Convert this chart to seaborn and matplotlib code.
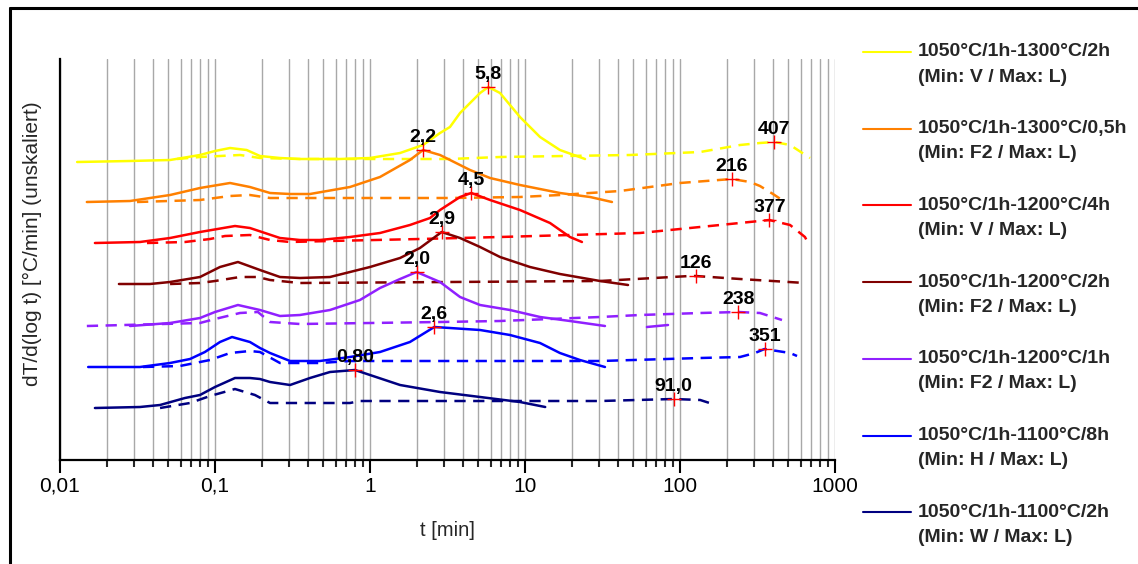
import numpy as np
import pandas as pd
import matplotlib
matplotlib.use("Agg")
import matplotlib.pyplot as plt
from matplotlib.lines import Line2D
from matplotlib.ticker import FixedLocator, NullFormatter
import seaborn as sns

# ---- series: t [min] and dT/d(log t) (unscaled, stacked offsets) ----
series_names = [
    "1050°C/1h-1300°C/2h", "1050°C/1h-1300°C/0,5h", "1050°C/1h-1200°C/4h",
    "1050°C/1h-1200°C/2h", "1050°C/1h-1200°C/1h", "1050°C/1h-1100°C/8h",
    "1050°C/1h-1100°C/2h",
]
series_notes = [
    "(Min: V / Max: L)", "(Min: F2 / Max: L)", "(Min: V / Max: L)",
    "(Min: F2 / Max: L)", "(Min: F2 / Max: L)", "(Min: H / Max: L)",
    "(Min: W / Max: L)",
]
series_colors = ["#ffff00", "#ff8000", "#ff0000", "#800000", "#9020ff", "#0000ff", "#000080"]

# solid curves
y1300_2h_t = [0.0129, 0.0283, 0.0513, 0.080, 0.100, 0.125, 0.160, 0.195, 0.2625, 0.353, 0.64, 1.0,
              1.563, 2.2, 2.83, 3.28, 3.81, 5.13, 5.8, 6.90, 9.28, 12.5, 16.8, 24.4]
y1300_2h_v = [298, 299, 300, 305, 309, 312, 310, 304, 302, 301, 301, 302,
              307, 315, 327, 333, 347, 367, 373, 367, 343, 323, 310, 301]
o1300_05h_t = [0.0149, 0.0283, 0.0513, 0.08, 0.125, 0.168, 0.2265, 0.305, 0.41, 0.743, 1.16, 1.81,
               2.2, 2.83, 4.42, 5.95, 9.28, 16.8, 26.3, 36.4]
o1300_05h_v = [258, 259, 265, 272, 277, 273, 267, 266, 266, 273, 283, 300,
               310, 305, 290, 282, 275, 267, 263, 258]
r1200_4h_t = [0.0168, 0.0328, 0.0513, 0.08, 0.1346, 0.168, 0.2625, 0.353, 0.475, 0.743, 1.16, 1.81,
              2.44, 2.83, 3.81, 4.5, 5.95, 9.28, 14.5, 19.5, 23.3]
r1200_4h_v = [217, 218, 222, 228, 234, 232, 222, 220, 220, 223, 227, 235,
              242, 250, 263, 267, 260, 250, 237, 223, 218]
d1200_2h_t = [0.024, 0.0381, 0.0513, 0.08, 0.1077, 0.1406, 0.195, 0.2625, 0.353, 0.552, 1.0, 1.563,
              2.10, 2.9, 3.81, 5.13, 6.9, 10.77, 16.8, 30.5, 46.2]
d1200_2h_v = [176, 176, 178, 183, 193, 198, 190, 183, 182, 183, 193, 202,
              212, 228, 222, 213, 203, 193, 186, 179, 175]
p1200_1h_t = [0.0283, 0.0513, 0.08, 0.1, 0.1406, 0.195, 0.2625, 0.353, 0.552, 0.861, 1.16, 1.563,
              2.0, 2.83, 3.81, 5.13, 8.0, 12.5, 19.5, 32.8]
p1200_1h_v = [134, 137, 142, 148, 155, 150, 144, 145, 150, 160, 172, 181,
              188, 178, 163, 155, 150, 143, 139, 134]
p1200_1h_tail_t = [61.2, 83.7]
p1200_1h_tail_v = [133, 135]
b1100_8h_t = [0.0152, 0.0328, 0.0513, 0.069, 0.0861, 0.1077, 0.1288, 0.168, 0.195, 0.2265, 0.305,
              0.475, 0.743, 1.16, 1.81, 2.6, 3.28, 5.13, 8.0, 12.5, 16.8, 22.6, 32.8]
b1100_8h_v = [93, 93, 97, 101, 108, 118, 123, 118, 112, 107, 99,
              99, 103, 108, 118, 133, 132, 130, 125, 117, 107, 100, 93]
n1100_2h_t = [0.0168, 0.0328, 0.0442, 0.064, 0.08, 0.1, 0.1346, 0.168, 0.195, 0.2265, 0.305, 0.41,
              0.552, 0.8, 1.0, 1.563, 2.83, 5.13, 9.28, 13.5]
n1100_2h_v = [52, 53, 55, 62, 65, 73, 82, 82, 81, 78, 75, 82,
              88, 90, 85, 75, 68, 63, 58, 53]

# dashed curves
y1300_2h_dt = [0.0569, 0.08, 0.145, 0.195, 0.353, 3.28, 6.9, 47.6, 135, 244, 328, 407, 513, 690]
y1300_2h_dv = [301, 303, 305, 302, 301, 301, 303, 305, 308, 315, 317, 318, 315, 302]
o1300_05h_dt = [0.0314, 0.08, 0.125, 0.168, 0.2265, 3.28, 9.28, 16.8, 41.0, 100, 216, 283, 328, 398, 476]
o1300_05h_dv = [258, 260, 264, 265, 262, 262, 263, 265, 269, 277, 281, 278, 274, 266, 258]
r1200_4h_dt = [0.0364, 0.064, 0.0929, 0.116, 0.168, 0.2265, 0.305, 0.552, 2.10, 6.9, 55.2, 116, 210,
               377, 513, 640, 670]
r1200_4h_dv = [217, 218, 221, 224, 225, 220, 218, 219, 221, 223, 227, 232, 236,
               240, 235, 223, 217]
d1200_2h_dt = [0.0513, 0.08, 0.1, 0.1449, 0.189, 0.2265, 0.353, 3.28, 30.5, 116, 126, 244, 640]
d1200_2h_dv = [176, 177, 179, 183, 183, 180, 177, 178, 179, 184, 184, 181, 177]
p1200_1h_dt = [0.0149, 0.08, 0.1, 0.1449, 0.189, 0.2265, 0.353, 2.83, 6.9, 30.5, 55.2, 135, 238, 328, 455]
p1200_1h_dv = [134, 137, 141, 147, 148, 138, 136, 138, 139, 143, 145, 147, 148, 147, 140]
b1100_8h_dt = [0.0343, 0.0594, 0.0929, 0.125, 0.168, 0.195, 0.2625, 0.475, 0.743, 30.5, 135, 244,
               305, 351, 513, 569]
b1100_8h_dv = [93, 94, 100, 107, 109, 108, 97, 97, 99, 99, 102, 103,
               107, 111, 107, 104]
n1100_2h_dt = [0.0442, 0.069, 0.0929, 0.1346, 0.181, 0.2265, 0.743, 0.861, 30.5, 91.0, 135, 170]
n1100_2h_dv = [52, 57, 64, 71, 65, 57, 57, 59, 59, 61, 60, 55]

solid_t = [y1300_2h_t, o1300_05h_t, r1200_4h_t, d1200_2h_t, p1200_1h_t, b1100_8h_t, n1100_2h_t]
solid_v = [y1300_2h_v, o1300_05h_v, r1200_4h_v, d1200_2h_v, p1200_1h_v, b1100_8h_v, n1100_2h_v]
dash_t = [y1300_2h_dt, o1300_05h_dt, r1200_4h_dt, d1200_2h_dt, p1200_1h_dt, b1100_8h_dt, n1100_2h_dt]
dash_v = [y1300_2h_dv, o1300_05h_dv, r1200_4h_dv, d1200_2h_dv, p1200_1h_dv, b1100_8h_dv, n1100_2h_dv]

# marked peaks
peak_t = [5.8, 407, 2.2, 216, 4.5, 377, 2.9, 126, 2.0, 238, 2.6, 351, 0.80, 91.0]
peak_v = [373, 318, 310, 281, 267, 240, 228, 184, 188, 148, 133, 111, 90, 61]
peak_labels = ["5,8", "407", "2,2", "216", "4,5", "377", "2,9", "126", "2,0", "238",
               "2,6", "351", "0,80", "91,0"]

major_ticks = [0.01, 0.1, 1, 10, 100, 1000]
major_labels = ["0,01", "0,1", "1", "10", "100", "1000"]

# ---- figure ----
sns.set_style("white")
plt.rcParams["font.family"] = ["Liberation Sans", "DejaVu Sans"]

W, H = 1138, 564
fig = plt.figure(figsize=(W / 100, H / 100), dpi=100)
ax = fig.add_axes([60 / W, 1 - 460 / H, (835 - 60) / W, (460 - 59) / H])
ax.set_xscale("log")
ax.set_xlim(0.01, 1000)
ax.set_ylim(0, 401)

lw = 1.8
dash_pattern = (0, (4.5, 3))
for i in range(len(series_names)):
    c = series_colors[i]
    sns.lineplot(x=dash_t[i], y=dash_v[i], ax=ax, color=c, lw=lw, linestyle=dash_pattern,
                 estimator=None, sort=False)
    sns.lineplot(x=solid_t[i], y=solid_v[i], ax=ax, color=c, lw=lw,
                 estimator=None, sort=False)
sns.lineplot(x=p1200_1h_tail_t, y=p1200_1h_tail_v, ax=ax, color=series_colors[4], lw=lw,
             estimator=None, sort=False)

sns.scatterplot(x=peak_t, y=peak_v, ax=ax, marker="+", color="#ff0000", s=100,
                linewidth=1.0, zorder=5)
for t, v, lab in zip(peak_t, peak_v, peak_labels):
    ax.annotate(lab, (t, v), xytext=(0, 6), textcoords="offset points", ha="center",
                va="baseline", fontsize=14, fontweight="bold", color="black", zorder=6)

# axes styling
ax.xaxis.set_major_locator(FixedLocator(major_ticks))
ax.set_xticklabels(major_labels)
minor = [m * d for d in [0.01, 0.1, 1, 10, 100] for m in range(2, 10)]
ax.xaxis.set_minor_locator(FixedLocator(minor))
ax.xaxis.set_minor_formatter(NullFormatter())
ax.set_yticks([])
ax.grid(True, which="both", axis="x", color="#a8a8a8", lw=1.0)
ax.set_axisbelow(True)
ax.tick_params(axis="x", which="major", direction="out", length=9, width=1.5,
               labelsize=15, pad=3, colors="black", bottom=True)
ax.tick_params(axis="x", which="minor", direction="out", length=5, width=1.5, bottom=True)
for s in ["top", "right"]:
    ax.spines[s].set_visible(False)
for s in ["left", "bottom"]:
    ax.spines[s].set_color("black")
    ax.spines[s].set_linewidth(1.6)
ax.set_xlabel("")
ax.set_ylabel("")

fig.text(447 / W, 1 - 531 / H, "t [min]", ha="center", va="center", fontsize=14.5)
fig.text(32 / W, 1 - 244 / H, "dT/d(log t) [°C/min] (unskaliert)", ha="center", va="center",
         rotation=90, fontsize=15)

# outer frame (top and left edges)
fig.add_artist(Line2D([10 / W, 1.0], [1 - 8 / H, 1 - 8 / H], transform=fig.transFigure,
                      color="black", lw=2.2))
fig.add_artist(Line2D([10 / W, 10 / W], [0.0, 1 - 8 / H], transform=fig.transFigure,
                      color="black", lw=2.2))

# legend
for i, (name, note, c) in enumerate(zip(series_names, series_notes, series_colors)):
    yc = 52 + 76.7 * i
    fig.add_artist(Line2D([863 / W, 911 / W], [1 - yc / H, 1 - yc / H],
                          transform=fig.transFigure, color=c, lw=1.5))
    fig.text(918 / W, 1 - yc / H, name, ha="left", va="center", fontsize=14, fontweight="bold")
    fig.text(918 / W, 1 - (yc + 25) / H, note, ha="left", va="center", fontsize=14,
             fontweight="bold")

fig.savefig("out.png", dpi=100)
